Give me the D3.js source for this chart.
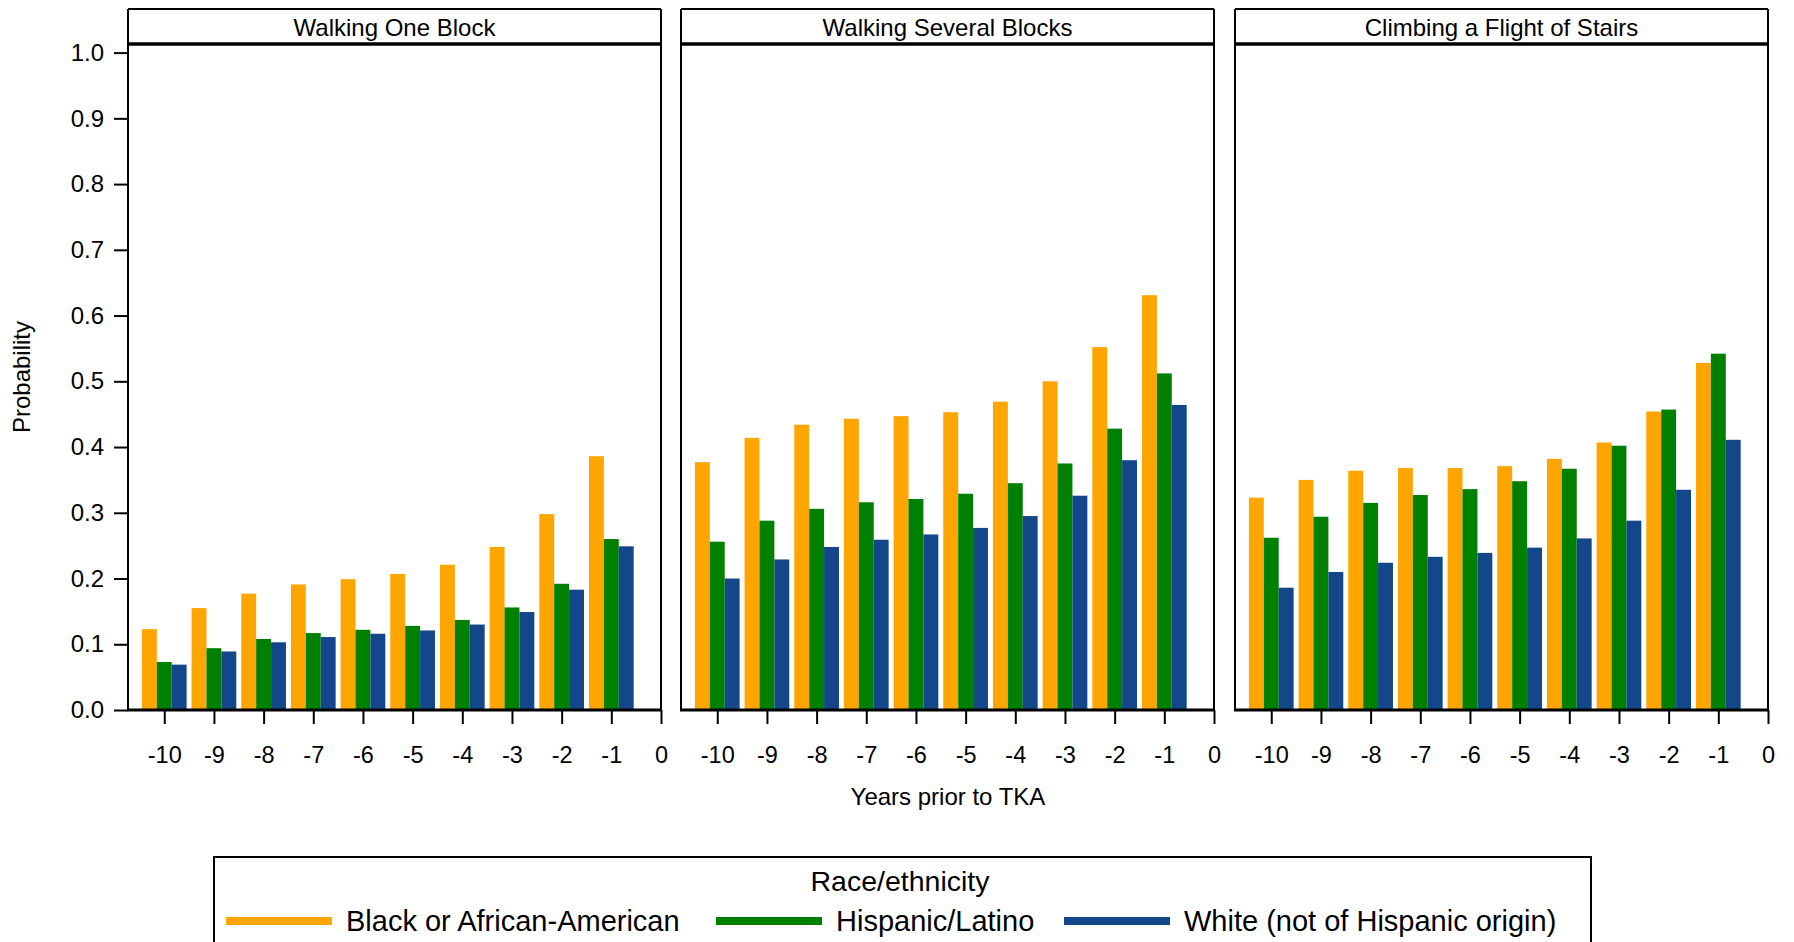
<!DOCTYPE html>
<html>
<head>
<meta charset="utf-8">
<script src="https://cdn.jsdelivr.net/npm/d3@7"></script>
<style>
  html, body { margin: 0; padding: 0; background: #fff; }
  svg { display: block; font-family: "Liberation Sans", Arial, sans-serif; }
</style>
</head>
<body>
<svg id="chart" width="1794" height="942"></svg>
<script>
// years before surgery, one group of bars per year
const years = [-10, -9, -8, -7, -6, -5, -4, -3, -2, -1];
const xTicks = [-10, -9, -8, -7, -6, -5, -4, -3, -2, -1, 0];
const yTicks = [0, 0.1, 0.2, 0.3, 0.4, 0.5, 0.6, 0.7, 0.8, 0.9, 1.0];

const panelTitles = ["Walking One Block", "Walking Several Blocks", "Climbing a Flight of Stairs"];
const seriesNames = ["Black or African-American", "Hispanic/Latino", "White (not of Hispanic origin)"];
const seriesColors = ["#ffa500", "#008000", "#13478a"];

// Walking One Block
const oneBlockBlack = [0.123, 0.155, 0.177, 0.191, 0.199, 0.207, 0.221, 0.248, 0.298, 0.386];
const oneBlockHispanic = [0.073, 0.094, 0.108, 0.117, 0.122, 0.128, 0.137, 0.156, 0.192, 0.260];
const oneBlockWhite = [0.069, 0.089, 0.103, 0.111, 0.116, 0.121, 0.130, 0.149, 0.183, 0.249];

// Walking Several Blocks
const severalBlack = [0.377, 0.414, 0.434, 0.443, 0.447, 0.453, 0.469, 0.500, 0.552, 0.631];
const severalHispanic = [0.256, 0.288, 0.306, 0.316, 0.321, 0.329, 0.345, 0.375, 0.428, 0.512];
const severalWhite = [0.200, 0.229, 0.248, 0.259, 0.267, 0.277, 0.295, 0.326, 0.380, 0.464];

// Climbing a Flight of Stairs
const stairsBlack = [0.323, 0.350, 0.364, 0.368, 0.368, 0.371, 0.382, 0.407, 0.454, 0.528];
const stairsHispanic = [0.262, 0.294, 0.315, 0.327, 0.336, 0.348, 0.367, 0.402, 0.457, 0.542];
const stairsWhite = [0.186, 0.210, 0.224, 0.233, 0.239, 0.247, 0.261, 0.288, 0.335, 0.411];

const panelValues = [
  [oneBlockBlack, oneBlockHispanic, oneBlockWhite],
  [severalBlack, severalHispanic, severalWhite],
  [stairsBlack, stairsHispanic, stairsWhite],
];

const svg = d3.select("#chart");

const panelLefts = [128, 681, 1235];
const panelWidth = 533;
const stripTop = 9;
const stripBottom = 44;
const plotBottom = 710;

const y = d3.scaleLinear().domain([0, 1]).range([plotBottom, 52.6]);
const barWidthYears = 0.3;

panelTitles.forEach((title, p) => {
  const left = panelLefts[p];
  const x = d3.scaleLinear().domain([-10.73, 0]).range([left, left + panelWidth]);
  const g = svg.append("g").attr("class", "panel");

  // bars
  const bars = [];
  panelValues[p].forEach((vals, s) => {
    vals.forEach((v, i) => {
      bars.push({ year: years[i], value: v, series: s });
    });
  });
  g.selectAll(".bar")
    .data(bars)
    .join("rect")
    .attr("class", "bar")
    .attr("x", (d) => x(d.year + (d.series - 1.5) * barWidthYears))
    .attr("width", (d) => x(barWidthYears) - x(0))
    .attr("y", (d) => y(d.value))
    .attr("height", (d) => y(0) - y(d.value))
    .attr("fill", (d) => seriesColors[d.series]);

  // frame
  g.append("line")
    .attr("x1", left).attr("x2", left)
    .attr("y1", stripTop).attr("y2", plotBottom)
    .attr("stroke", "#000").attr("stroke-width", 2);
  g.append("line")
    .attr("x1", left + panelWidth).attr("x2", left + panelWidth)
    .attr("y1", stripTop).attr("y2", plotBottom)
    .attr("stroke", "#000").attr("stroke-width", 2);
  g.append("line")
    .attr("x1", left).attr("x2", left + panelWidth)
    .attr("y1", stripTop).attr("y2", stripTop)
    .attr("stroke", "#000").attr("stroke-width", 2);
  g.append("line")
    .attr("x1", left - 1).attr("x2", left + panelWidth + 1)
    .attr("y1", stripBottom).attr("y2", stripBottom)
    .attr("stroke", "#000").attr("stroke-width", 3.5);

  g.append("text")
    .attr("x", left + panelWidth / 2)
    .attr("y", (stripTop + stripBottom) / 2 + 1)
    .attr("text-anchor", "middle")
    .attr("dominant-baseline", "central")
    .attr("font-size", 24)
    .text(title);

  // x axis
  const xAxis = g.append("g")
    .attr("transform", `translate(0,${plotBottom})`)
    .call(d3.axisBottom(x).tickValues(xTicks).tickSize(14).tickPadding(22).tickFormat(d3.format("d")));
  xAxis.select(".domain").remove();
  xAxis.selectAll(".tick line").attr("stroke", "#000").attr("stroke-width", 2);
  xAxis.selectAll(".tick text").attr("font-size", 23.5).attr("font-family", null).attr("fill", "#000");
  // plain hyphen instead of the unicode minus d3 uses
  xAxis.selectAll(".tick text").text((d) => String(d));

  g.append("line")
    .attr("x1", left - 1).attr("x2", left + panelWidth + 1)
    .attr("y1", plotBottom).attr("y2", plotBottom)
    .attr("stroke", "#000").attr("stroke-width", 3);
});

// y axis on the first panel only
const yAxis = svg.append("g")
  .attr("transform", `translate(${panelLefts[0]},0)`)
  .call(d3.axisLeft(y).tickValues(yTicks).tickSize(14).tickPadding(10).tickFormat(d3.format(".1f")));
yAxis.select(".domain").remove();
yAxis.selectAll(".tick line").attr("stroke", "#000").attr("stroke-width", 2);
yAxis.selectAll(".tick text").attr("font-size", 24).attr("font-family", null).attr("fill", "#000");

svg.append("text")
  .attr("transform", `translate(30,${(stripBottom + plotBottom) / 2}) rotate(-90)`)
  .attr("text-anchor", "middle")
  .attr("font-size", 24)
  .text("Probability");

svg.append("text")
  .attr("x", (panelLefts[0] + panelLefts[2] + panelWidth) / 2)
  .attr("y", 805)
  .attr("text-anchor", "middle")
  .attr("font-size", 24)
  .text("Years prior to TKA");

// legend
const legend = svg.append("g").attr("class", "legend");
legend.append("rect")
  .attr("x", 214).attr("y", 857)
  .attr("width", 1377).attr("height", 120)
  .attr("fill", "none").attr("stroke", "#000").attr("stroke-width", 2);
legend.append("text")
  .attr("x", 900).attr("y", 891)
  .attr("text-anchor", "middle")
  .attr("font-size", 28.5)
  .text("Race/ethnicity");

const legendX = [226, 716, 1064];
const entries = legend.selectAll(".entry")
  .data(seriesNames)
  .join("g")
  .attr("class", "entry")
  .attr("transform", (d, i) => `translate(${legendX[i]},921)`);
entries.append("line")
  .attr("x1", 0).attr("x2", 106)
  .attr("stroke", (d, i) => seriesColors[i])
  .attr("stroke-width", 8);
entries.append("text")
  .attr("x", 120)
  .attr("dominant-baseline", "central")
  .attr("font-size", 29)
  .text((d) => d);
</script>
</body>
</html>
